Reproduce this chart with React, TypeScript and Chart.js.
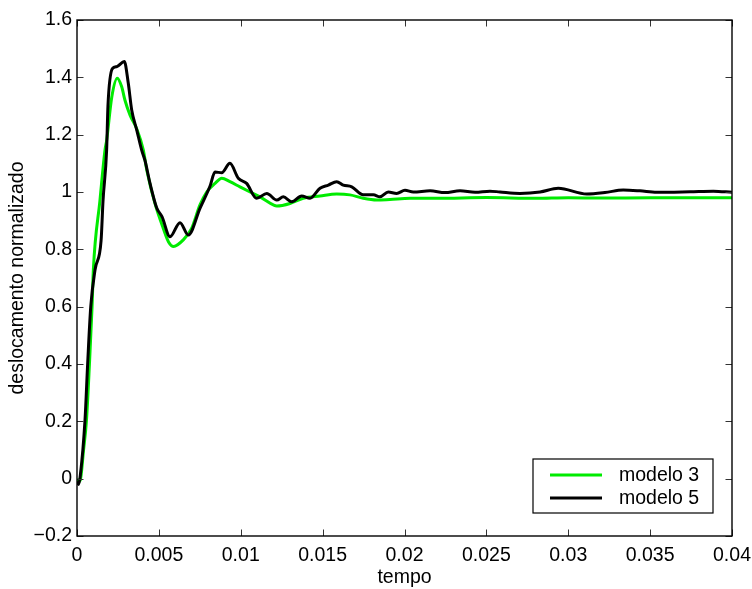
import React, { useEffect, useRef } from "react";
import { Chart, registerables } from "chart.js";

Chart.register(...registerables);

const xTicks = [0, 0.005, 0.01, 0.015, 0.02, 0.025, 0.03, 0.035, 0.04];
const xTickLabels = ["0", "0.005", "0.01", "0.015", "0.02", "0.025", "0.03", "0.035", "0.04"];
const yTicks = [-0.2, 0, 0.2, 0.4, 0.6, 0.8, 1, 1.2, 1.4, 1.6];
const yTickLabels = ["\u22120.2", "0", "0.2", "0.4", "0.6", "0.8", "1", "1.2", "1.4", "1.6"];

const seriesLabels = ["modelo 3", "modelo 5"];
const seriesColors = ["rgb(0,235,0)", "#000000"];

// modelo 3 (green)
const t3 = [0, 0.0001, 0.0002, 0.0004, 0.00058, 0.00076, 0.00092, 0.001, 0.0014, 0.00171, 0.00181, 0.00212, 0.00246, 0.00273, 0.00293, 0.00324, 0.00365, 0.00405, 0.00426, 0.00476, 0.00527, 0.0056, 0.0059, 0.00649, 0.007, 0.00751, 0.00792, 0.00843, 0.00884, 0.00934, 0.00995, 0.01057, 0.01118, 0.01199, 0.0122, 0.01301, 0.01382, 0.01484, 0.01586, 0.01667, 0.01748, 0.0183, 0.01911, 0.02034, 0.022, 0.025, 0.028, 0.03, 0.032, 0.035, 0.04];
const y3 = [0, -0.01, -0.005, 0.1, 0.205, 0.4, 0.6, 0.73, 0.97, 1.147, 1.18, 1.33, 1.397, 1.367, 1.32, 1.268, 1.22, 1.146, 1.077, 0.96, 0.873, 0.825, 0.81, 0.833, 0.873, 0.955, 1.0, 1.03, 1.048, 1.036, 1.018, 1.0, 0.983, 0.955, 0.951, 0.96, 0.978, 0.986, 0.993, 0.99, 0.978, 0.972, 0.974, 0.978, 0.978, 0.981, 0.978, 0.98, 0.979, 0.98, 0.98];

// modelo 5 (black)
const t5 = [0, 0.0001, 0.0002, 0.00049, 0.00065, 0.00084, 0.0011, 0.00147, 0.00159, 0.00181, 0.00189, 0.00216, 0.00242, 0.00289, 0.00313, 0.00334, 0.00365, 0.00395, 0.00415, 0.00446, 0.00487, 0.00519, 0.00568, 0.00629, 0.0068, 0.00751, 0.00812, 0.00843, 0.00884, 0.00934, 0.00985, 0.01036, 0.01097, 0.01159, 0.0122, 0.0126, 0.01311, 0.01372, 0.01423, 0.01484, 0.01535, 0.01586, 0.01626, 0.01678, 0.01748, 0.0181, 0.0185, 0.01901, 0.01952, 0.02003, 0.02054, 0.02156, 0.02247, 0.02339, 0.02431, 0.02522, 0.02583, 0.02705, 0.02828, 0.02939, 0.03113, 0.03224, 0.03336, 0.03438, 0.0354, 0.03744, 0.03886, 0.04];
const y5 = [-0.01, -0.02, 0.01, 0.205, 0.4, 0.6, 0.728, 0.83, 0.97, 1.147, 1.3, 1.43, 1.437, 1.455, 1.38, 1.286, 1.216, 1.146, 1.11, 1.03, 0.944, 0.914, 0.844, 0.893, 0.85, 0.943, 1.02, 1.07, 1.067, 1.1, 1.048, 1.03, 0.978, 0.995, 0.972, 0.983, 0.966, 0.986, 0.978, 1.013, 1.024, 1.036, 1.024, 1.018, 0.99, 0.99, 0.983, 1.0, 0.995, 1.006, 1.0, 1.004, 0.998, 1.004, 0.999, 1.003, 1.0, 0.995, 1.0, 1.013, 0.993, 0.998, 1.007, 1.004, 0.999, 1.001, 1.003, 0.999];

const FONT = "'Liberation Sans', Arial, Helvetica, sans-serif";
const FS = 19.5;

const framePlugin = {
  id: "frame",
  afterDraw(chart: any) {
    const { ctx, chartArea: a, scales } = chart;
    const xs = scales.x;
    const ys = scales.y;
    ctx.save();
    ctx.strokeStyle = "#333";
    ctx.lineWidth = 1;
    const tl = 6.5;
    ctx.beginPath();
    for (const v of xTicks) {
      const px = Math.round(xs.getPixelForValue(v)) + 0.5;
      ctx.moveTo(px, a.bottom);
      ctx.lineTo(px, a.bottom - tl);
      ctx.moveTo(px, a.top);
      ctx.lineTo(px, a.top + tl);
    }
    for (const v of yTicks) {
      const py = Math.round(ys.getPixelForValue(v)) + 0.5;
      ctx.moveTo(a.left, py);
      ctx.lineTo(a.left + tl, py);
      ctx.moveTo(a.right, py);
      ctx.lineTo(a.right - tl, py);
    }
    ctx.stroke();
    ctx.strokeStyle = "#000";
    ctx.lineWidth = 1.4;
    ctx.strokeRect(a.left, a.top, a.right - a.left, a.bottom - a.top);

    // legend
    const lx = 533, ly = 459, lw = 180, lh = 54;
    ctx.fillStyle = "#fff";
    ctx.fillRect(lx, ly, lw, lh);
    ctx.lineWidth = 1.2;
    ctx.strokeStyle = "#000";
    ctx.strokeRect(lx, ly, lw, lh);
    ctx.font = `${FS}px ${FONT}`;
    ctx.textBaseline = "middle";
    ctx.textAlign = "left";
    const rows = [475, 498];
    chart.data.datasets.forEach((ds: any, i: number) => {
      const yy = rows[i];
      ctx.strokeStyle = ds.borderColor;
      ctx.lineWidth = 3;
      ctx.beginPath();
      ctx.moveTo(550, yy);
      ctx.lineTo(602, yy);
      ctx.stroke();
      ctx.fillStyle = "#000";
      ctx.fillText(ds.label, 619, yy + 1);
    });
    ctx.restore();
  },
};

export default function App() {
  const ref = useRef<HTMLCanvasElement>(null);
  useEffect(() => {
    if (!ref.current) return;
    const ds3 = t3.map((t, i) => ({ x: t, y: y3[i] }));
    const ds5 = t5.map((t, i) => ({ x: t, y: y5[i] }));
    const chart = new Chart(ref.current, {
      type: "line",
      data: {
        datasets: [
          {
            label: seriesLabels[0],
            data: ds3,
            borderColor: seriesColors[0],
            borderWidth: 3,
            pointRadius: 0,
            cubicInterpolationMode: "monotone",
            order: 1,
          },
          {
            label: seriesLabels[1],
            data: ds5,
            borderColor: seriesColors[1],
            borderWidth: 3,
            pointRadius: 0,
            cubicInterpolationMode: "monotone",
            order: 0,
          },
        ],
      },
      options: {
        animation: false,
        responsive: false,
        maintainAspectRatio: false,
        layout: { padding: { top: 20, right: 20, left: 0, bottom: 0 } },
        plugins: { legend: { display: false }, tooltip: { enabled: false } },
        scales: {
          x: {
            type: "linear",
            min: 0,
            max: 0.04,
            grid: { display: false, drawTicks: false },
            border: { display: false },
            afterBuildTicks: (s: any) => {
              s.ticks = xTicks.map((v) => ({ value: v }));
            },
            afterFit: (s: any) => {
              s.height = 53;
              s.paddingLeft = 0;
              s.paddingRight = 0;
            },
            ticks: {
              padding: 8,
              maxRotation: 0,
              autoSkip: false,
              color: "#000",
              font: { family: FONT, size: FS },
              callback: (v: any) => {
                const i = xTicks.findIndex((t) => Math.abs(t - Number(v)) < 1e-9);
                return i >= 0 ? xTickLabels[i] : "";
              },
            },
            title: {
              display: true,
              text: "tempo",
              color: "#000",
              font: { family: FONT, size: FS },
              padding: { top: 0, bottom: 0 },
            },
          },
          y: {
            type: "linear",
            min: -0.2,
            max: 1.6,
            grid: { display: false, drawTicks: false },
            border: { display: false },
            afterBuildTicks: (s: any) => {
              s.ticks = yTicks.map((v) => ({ value: v }));
            },
            afterFit: (s: any) => {
              s.width = 77;
              s.paddingTop = 0;
              s.paddingBottom = 0;
            },
            ticks: {
              padding: 5,
              autoSkip: false,
              color: "#000",
              font: { family: FONT, size: FS },
              callback: (v: any) => {
                const i = yTicks.findIndex((t) => Math.abs(t - Number(v)) < 1e-9);
                return i >= 0 ? yTickLabels[i] : "";
              },
            },
            title: {
              display: true,
              text: "deslocamento normalizado",
              color: "#000",
              font: { family: FONT, size: FS },
              padding: { top: 6, bottom: 0 },
            },
          },
        },
      },
      plugins: [framePlugin],
    } as any);
    return () => chart.destroy();
  }, []);
  return (
    <div style={{ position: "fixed", left: 0, top: 0, width: 752, height: 589, background: "#fff" }}>
      <canvas ref={ref} width={752} height={589} style={{ width: 752, height: 589, display: "block" }} />
    </div>
  );
}
